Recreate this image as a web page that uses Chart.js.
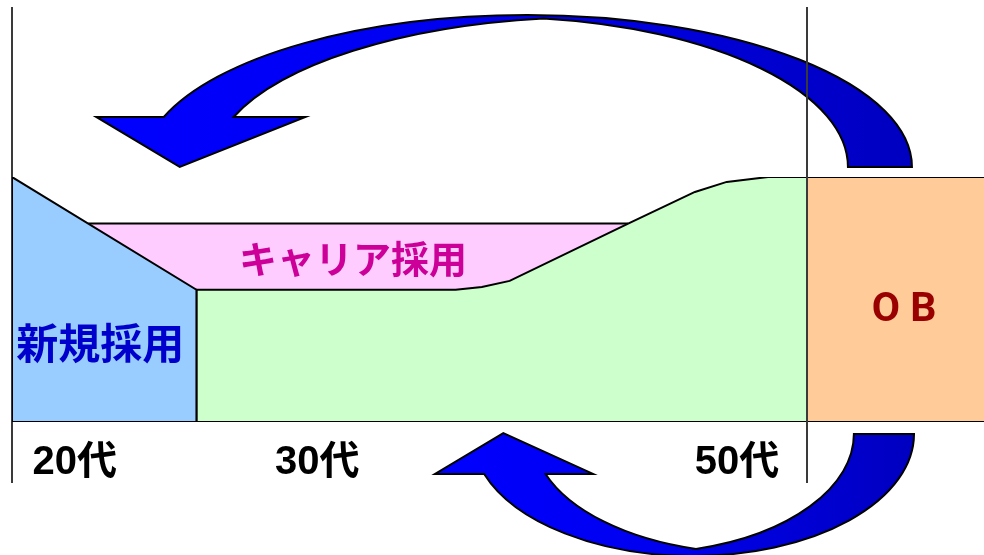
<!DOCTYPE html>
<html lang="ja">
<head>
<meta charset="utf-8">
<title>採用と人員構成</title>
<script src="https://cdn.jsdelivr.net/npm/chart.js@4/dist/chart.umd.min.js"></script>
<style>
  html, body { margin: 0; padding: 0; background: #ffffff; }
  #wrap { width: 984px; height: 555px; position: relative; overflow: hidden; }
  canvas { display: block; }
</style>
</head>
<body>
<div id="wrap"><canvas id="chart" width="984" height="555"></canvas></div>
<script>
// x: career span (0 = start of 20代, 100 = retirement), y: headcount level (0..100)

// 新規採用 (new graduates)
const newGradX = [0, 0, 23.2, 23.2];
const newGradY = [0, 100, 54, 0];

// キャリア採用 (mid-career hires) – upper edge of the band
const careerX = [9.6, 77.5];
const careerY = [81, 81];

// Core staff outline
const coreX = [23.2, 23.2, 55.8, 59.1, 62.6, 77.5, 85.9, 89.9, 95.1, 100, 100];
const coreY = [0, 54, 54, 55.1, 57.6, 81, 93.9, 98.0, 100, 100, 0];

// OB (alumni)
const obX = [100, 100, 125, 125];
const obY = [0, 100, 100, 0];

// Stage boundaries
const guideX = [0, 100];
const guideTop = 169.4;
const guideBottom = -24.9;

// Texts
const stageLabels = ['20代', '30代', '50代'];
const regionLabels = ['新規採用', 'キャリア採用', 'O B'];

// Where each text sits (chart units)
const stageLabelPos = [[7.9, -16.8], [38.4, -16.8], [91.2, -16.8]];
const regionLabelPos = [[11.1, 32.2], [42.9, 66.9], [112.2, 45.3]];
const regionLabelStyle = [
  { font: "bold 42px 'Noto Sans CJK JP', sans-serif", color: '#0000cc' },
  { font: "bold 38px 'Noto Sans CJK JP', sans-serif", color: '#cc0099' },
  { font: "bold 41px Roboto, 'Liberation Sans', sans-serif", color: '#990000' }
];

// Curved flow arrows (chart units): ellipses are {cx, cy, rx, ry}
const arrowTop = {
  dir: -1,
  outer:  { cx: 64.8,  cy: 104.1, rx: 48.4, ry: 62.0 },
  innerL: { cx: 73.5,  cy: 104.1, rx: 48.4, ry: 61.2 },
  innerR: { cx: 60.75, cy: 104.1, rx: 44.4, ry: 61.2 },
  neckY: 124.5, barbL: 10.6, barbR: 36.9, tip: [21.1, 104.1]
};
const arrowBottom = {
  dir: 1,
  outer:  { cx: 85.66, cy: -4.9, rx: 27.8, ry: 49.8 },
  innerL: { cx: 93.3,  cy: -4.9, rx: 27.8, ry: 48.6 },
  innerR: { cx: 79.0,  cy: -4.9, rx: 26.9, ry: 48.6 },
  neckY: -21.2, barbL: 53.2, barbR: 73.1, tip: [61.8, -4.5]
};

const pts = (xs, ys) => xs.map((x, i) => ({ x, y: ys[i] }));

function toPx(chart, e) {
  const xs = chart.scales.x, ys = chart.scales.y;
  const cx = xs.getPixelForValue(e.cx), cy = ys.getPixelForValue(e.cy);
  return {
    cx, cy,
    rx: Math.abs(xs.getPixelForValue(e.cx + e.rx) - cx),
    ry: Math.abs(ys.getPixelForValue(e.cy + e.ry) - cy)
  };
}

function drawCurvedArrow(chart, a) {
  const ctx = chart.ctx;
  const xs = chart.scales.x, ys = chart.scales.y;
  const dir = a.dir;
  const O = toPx(chart, a.outer), L = toPx(chart, a.innerL), R = toPx(chart, a.innerR);
  const neck = ys.getPixelForValue(a.neckY);
  const bL = xs.getPixelForValue(a.barbL), bR = xs.getPixelForValue(a.barbR);
  const tx = xs.getPixelForValue(a.tip[0]), ty = ys.getPixelForValue(a.tip[1]);

  const yOn = (e, x) => {
    const t = (x - e.cx) / e.rx;
    return e.cy + dir * e.ry * Math.sqrt(Math.max(0, 1 - t * t));
  };
  const neckAngle = (e) => {
    const s = (neck - e.cy) / e.ry;
    return Math.atan2(s, -Math.sqrt(Math.max(0, 1 - s * s)));
  };
  // where the two inner arcs meet
  let lo = R.cx, hi = L.cx;
  const f = (x) => yOn(L, x) - yOn(R, x);
  const fLo = f(lo);
  for (let i = 0; i < 60; i++) {
    const mid = (lo + hi) / 2;
    if (Math.sign(f(mid)) === Math.sign(fLo)) lo = mid; else hi = mid;
  }
  const xi = (lo + hi) / 2, yi = yOn(L, xi);
  const angL = Math.atan2((yi - L.cy) / L.ry, (xi - L.cx) / L.rx);
  const angR = Math.atan2((yi - R.cy) / R.ry, (xi - R.cx) / R.rx);

  ctx.save();
  ctx.beginPath();
  ctx.moveTo(O.cx + O.rx, O.cy);
  ctx.ellipse(O.cx, O.cy, O.rx, O.ry, 0, 0, neckAngle(O), dir < 0);
  ctx.lineTo(bL, neck);
  ctx.lineTo(tx, ty);
  ctx.lineTo(bR, neck);
  ctx.ellipse(L.cx, L.cy, L.rx, L.ry, 0, neckAngle(L), angL, dir > 0);
  ctx.ellipse(R.cx, R.cy, R.rx, R.ry, 0, angR, 0, dir > 0);
  ctx.closePath();
  const g = ctx.createLinearGradient(bL, 0, O.cx + O.rx, 0);
  g.addColorStop(0, '#0000ff');
  g.addColorStop(0.45, '#0000f0');
  g.addColorStop(1, '#0000c0');
  ctx.fillStyle = g;
  ctx.fill();
  ctx.lineWidth = 2;
  ctx.lineJoin = 'miter';
  ctx.strokeStyle = '#000000';
  ctx.stroke();
  ctx.restore();
}

const arrowsPlugin = {
  id: 'flowArrows',
  beforeDatasetsDraw(chart) {
    drawCurvedArrow(chart, arrowTop);
    drawCurvedArrow(chart, arrowBottom);
  }
};

const textPlugin = {
  id: 'areaTexts',
  afterDatasetsDraw(chart) {
    const ctx = chart.ctx;
    const xs = chart.scales.x, ys = chart.scales.y;
    ctx.save();
    ctx.textAlign = 'center';
    ctx.textBaseline = 'middle';
    regionLabels.forEach((t, i) => {
      ctx.font = regionLabelStyle[i].font;
      ctx.fillStyle = regionLabelStyle[i].color;
      ctx.fillText(t, xs.getPixelForValue(regionLabelPos[i][0]), ys.getPixelForValue(regionLabelPos[i][1]));
    });
    ctx.font = "bold 40px 'Liberation Sans', 'Noto Sans CJK JP', sans-serif";
    ctx.fillStyle = '#000000';
    stageLabels.forEach((t, i) => {
      ctx.fillText(t, xs.getPixelForValue(stageLabelPos[i][0]), ys.getPixelForValue(stageLabelPos[i][1]));
    });
    ctx.restore();
  }
};

const area = (label, xs, ys, fill, order) => ({
  label,
  data: pts(xs, ys),
  backgroundColor: fill,
  borderColor: '#000000',
  borderWidth: 2,
  fill: 'origin',
  tension: 0,
  pointRadius: 0,
  order
});

new Chart(document.getElementById('chart'), {
  type: 'line',
  data: {
    datasets: [
      {
        label: 'base',
        data: pts([0, 125], [0, 0]),
        borderColor: '#000000', borderWidth: 2, fill: false, pointRadius: 0, order: 0
      },
      area('新規採用', newGradX, newGradY, '#99ccff', 1),
      area('中堅', coreX, coreY, '#ccffcc', 2),
      area('キャリア採用', careerX, careerY, '#ffccff', 3),
      area('OB', obX, obY, '#ffcc99', 4),
      {
        label: 'guide-left',
        data: pts([guideX[0], guideX[0]], [guideTop, guideBottom]),
        borderColor: '#3a3a3a', borderWidth: 2, fill: false, pointRadius: 0, clip: false, order: 5
      },
      {
        label: 'guide-right',
        data: pts([guideX[1], guideX[1]], [guideTop, guideBottom]),
        borderColor: '#3a3a3a', borderWidth: 2, fill: false, pointRadius: 0, clip: false, order: -1
      }
    ]
  },
  options: {
    responsive: false,
    animation: false,
    devicePixelRatio: 1,
    layout: { padding: { left: 12, right: 0, top: 177, bottom: 133 } },
    scales: {
      x: { type: 'linear', display: false, min: 0, max: 972 / 7.95 },
      y: { type: 'linear', display: false, min: 0, max: 100 }
    },
    plugins: { legend: { display: false }, tooltip: { enabled: false } }
  },
  plugins: [arrowsPlugin, textPlugin]
});
</script>
</body>
</html>
